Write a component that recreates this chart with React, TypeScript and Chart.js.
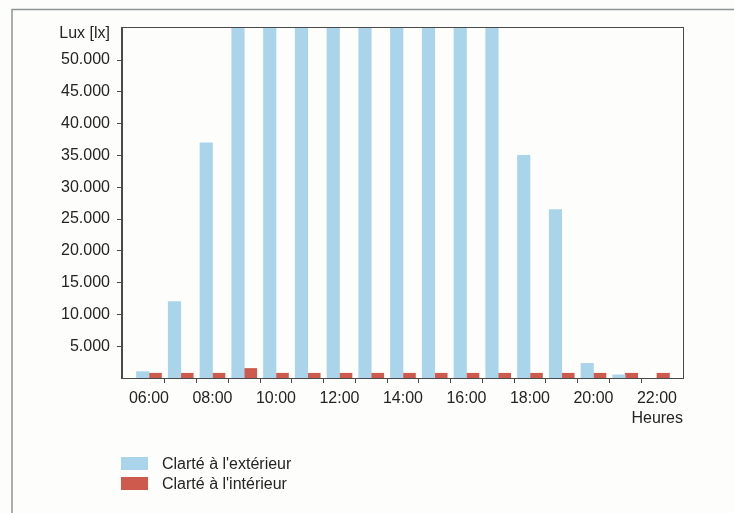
import React, { useEffect, useRef } from 'react';
import { Chart, registerables } from 'chart.js';

Chart.register(...registerables);

const hours = ['06:00', '07:00', '08:00', '09:00', '10:00', '11:00', '12:00', '13:00', '14:00', '15:00', '16:00', '17:00', '18:00', '19:00', '20:00', '21:00', '22:00'];
const exterieur = [1000, 12000, 37000, 62000, 74000, 84000, 90000, 93000, 91000, 85000, 74000, 61000, 35000, 26500, 2300, 500, null];
const interieur = [750, 750, 750, 1500, 750, 750, 750, 750, 750, 750, 750, 750, 750, 750, 750, 750, 750];
const seriesLabels = ["Clarté à l'extérieur", "Clarté à l'intérieur"];
const seriesColors = ['#a9d4e9', '#cd5a4c'];
const yTitle = 'Lux [lx]';
const xTitle = 'Heures';
const yMax = 55200;
const yTicks = [5000, 10000, 15000, 20000, 25000, 30000, 35000, 40000, 45000, 50000];

const FONT = '"Liberation Sans", Arial, Helvetica, sans-serif';
const INK = '#242424';
const FRAME = '#4a4a4a';

const fmt = (v: number) => String(v).replace(/\B(?=(\d{3})+(?!\d))/g, '.');

const decor = {
  id: 'decor',
  beforeDraw(chart: any) {
    const ctx = chart.ctx;
    ctx.save();
    ctx.strokeStyle = '#8f9595';
    ctx.lineWidth = 1.5;
    ctx.beginPath();
    ctx.moveTo(12, 513);
    ctx.lineTo(12, 9.5);
    ctx.lineTo(734, 9.5);
    ctx.stroke();
    ctx.restore();
  },
  afterDraw(chart: any) {
    const { ctx, chartArea: a } = chart;
    ctx.save();
    ctx.strokeStyle = FRAME;
    ctx.lineWidth = 1;
    ctx.strokeRect(Math.round(a.left) - 0.5, Math.round(a.top) + 0.5, Math.round(a.right - a.left) + 1, Math.round(a.bottom - a.top));
    ctx.font = `16px ${FONT}`;
    ctx.fillStyle = INK;
    ctx.textBaseline = 'middle';
    ctx.textAlign = 'right';
    ctx.fillText(yTitle, a.left - 12, a.top + 7);
    ctx.fillText(xTitle, a.right, a.bottom + 41);
    ctx.textAlign = 'left';
    chart.data.datasets.forEach((ds: any, i: number) => {
      const y = a.bottom + 79 + i * 20;
      ctx.fillStyle = ds.backgroundColor;
      ctx.fillRect(121, y, 27, 13);
      ctx.fillStyle = INK;
      ctx.fillText(ds.label, 162, y + 7.5);
    });
    ctx.restore();
  },
};

export default function App() {
  const ref = useRef<HTMLCanvasElement | null>(null);

  useEffect(() => {
    if (!ref.current) return;
    const chart = new Chart(ref.current, {
      type: 'bar',
      data: {
        datasets: [
          {
            label: seriesLabels[0],
            data: exterieur.map((v, i) => ({ x: i, y: v })) as any,
            backgroundColor: seriesColors[0],
            borderWidth: 0,
          },
          {
            label: seriesLabels[1],
            data: interieur.map((v, i) => ({ x: i, y: v })) as any,
            backgroundColor: seriesColors[1],
            borderWidth: 0,
          },
        ],
      },
      options: {
        responsive: false,
        animation: false,
        layout: { padding: { left: 0, top: 27, right: 51, bottom: 95 } },
        datasets: { bar: { barThickness: 12.5 } } as any,
        plugins: {
          legend: { display: false },
          tooltip: { enabled: false },
          title: { display: false },
        },
        scales: {
          x: {
            type: 'linear',
            min: -0.85,
            max: 16.82,
            offset: false,
            afterBuildTicks: (scale: any) => {
              scale.ticks = hours.map((_, i) => ({ value: i + 0.5 }));
            },
            afterFit: (scale: any) => {
              scale.height = 40;
            },
            grid: {
              offset: false,
              drawOnChartArea: false,
              drawTicks: true,
              tickLength: 5,
              color: (c: any) => (c.tick && c.tick.value > 16 ? 'rgba(0,0,0,0)' : FRAME),
              tickColor: (c: any) => (c.tick && c.tick.value > 16 ? 'rgba(0,0,0,0)' : FRAME),
            },
            border: { display: true, color: FRAME },
            ticks: {
              autoSkip: false,
              maxRotation: 0,
              labelOffset: -15.875,
              padding: 6,
              color: INK,
              font: { family: FONT, size: 16 },
              callback: (value: any) => {
                const k = Math.round(Number(value) - 0.5);
                return k % 2 === 0 ? hours[k] : '';
              },
            },
          },
          y: {
            min: 0,
            max: yMax,
            afterBuildTicks: (scale: any) => {
              scale.ticks = yTicks.map((v) => ({ value: v }));
            },
            afterFit: (scale: any) => {
              scale.width = 122;
            },
            grid: {
              drawOnChartArea: false,
              drawTicks: true,
              tickLength: 5,
              color: FRAME,
              tickColor: FRAME,
            },
            border: { display: true, color: FRAME },
            ticks: {
              autoSkip: false,
              padding: 7,
              color: INK,
              font: { family: FONT, size: 16 },
              callback: (value: any) => fmt(Number(value)),
            },
          },
        },
      },
      plugins: [decor],
    });
    return () => chart.destroy();
  }, []);

  return (
    <div style={{ position: 'absolute', left: 0, top: 0, width: 734, height: 513, background: '#fdfdfb' }}>
      <canvas ref={ref} width={734} height={513} style={{ display: 'block' }} />
    </div>
  );
}
